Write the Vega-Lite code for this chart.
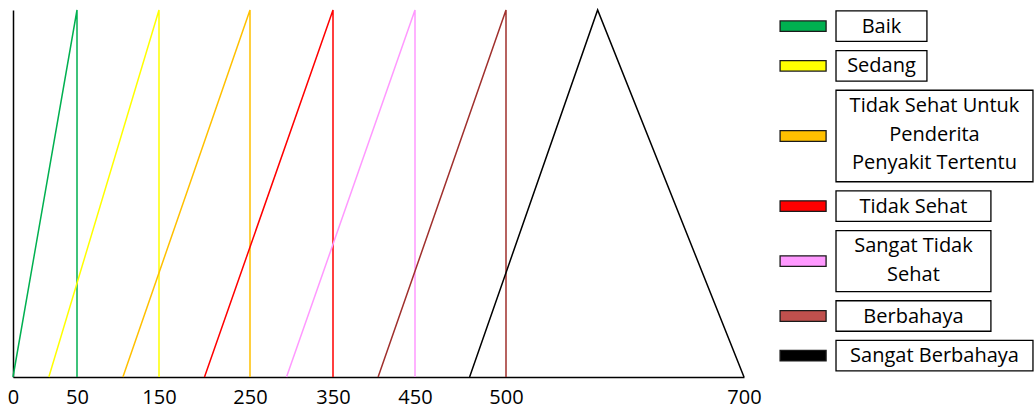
{
  "$schema": "https://vega.github.io/schema/vega-lite/v6.json",
  "background": "white",
  "padding": {"left": 7, "top": 7, "right": 0, "bottom": 4},
  "spacing": 14,
  "config": {"view": {"stroke": null}},
  "hconcat": [
    {
      "width": 731,
      "height": 367,
      "data": {
        "values": [
          {"kategori": "Baik", "urutan": 1, "aqi": 0, "derajat": 0},
          {"kategori": "Baik", "urutan": 2, "aqi": 50, "derajat": 1},
          {"kategori": "Baik", "urutan": 3, "aqi": 50, "derajat": 0},
          {"kategori": "Sedang", "urutan": 1, "aqi": 28, "derajat": 0},
          {"kategori": "Sedang", "urutan": 2, "aqi": 150, "derajat": 1},
          {"kategori": "Sedang", "urutan": 3, "aqi": 150, "derajat": 0},
          {"kategori": "Tidak Sehat Untuk Penderita Penyakit Tertentu", "urutan": 1, "aqi": 106, "derajat": 0},
          {"kategori": "Tidak Sehat Untuk Penderita Penyakit Tertentu", "urutan": 2, "aqi": 250, "derajat": 1},
          {"kategori": "Tidak Sehat Untuk Penderita Penyakit Tertentu", "urutan": 3, "aqi": 250, "derajat": 0},
          {"kategori": "Tidak Sehat", "urutan": 1, "aqi": 200, "derajat": 0},
          {"kategori": "Tidak Sehat", "urutan": 2, "aqi": 350, "derajat": 1},
          {"kategori": "Tidak Sehat", "urutan": 3, "aqi": 350, "derajat": 0},
          {"kategori": "Sangat Tidak Sehat", "urutan": 1, "aqi": 294, "derajat": 0},
          {"kategori": "Sangat Tidak Sehat", "urutan": 2, "aqi": 450, "derajat": 1},
          {"kategori": "Sangat Tidak Sehat", "urutan": 3, "aqi": 450, "derajat": 0},
          {"kategori": "Berbahaya", "urutan": 1, "aqi": 405, "derajat": 0},
          {"kategori": "Berbahaya", "urutan": 2, "aqi": 500, "derajat": 1},
          {"kategori": "Berbahaya", "urutan": 3, "aqi": 500, "derajat": 0},
          {"kategori": "Sangat Berbahaya", "urutan": 1, "aqi": 480, "derajat": 0},
          {"kategori": "Sangat Berbahaya", "urutan": 2, "aqi": 577, "derajat": 1},
          {"kategori": "Sangat Berbahaya", "urutan": 3, "aqi": 700, "derajat": 0}
        ]
      },
      "mark": {"type": "line", "strokeWidth": 1.5, "strokeJoin": "miter"},
      "encoding": {
        "x": {
          "field": "aqi",
          "type": "quantitative",
          "scale": {
            "domain": [0, 50, 150, 250, 350, 450, 500, 700],
            "range": [0, 64, 146, 237, 320, 402, 493, 731],
            "nice": false,
            "zero": false
          },
          "axis": {
            "values": [0, 50, 150, 250, 350, 450, 500, 700],
            "title": null,
            "grid": false,
            "ticks": false,
            "domainColor": "black",
            "domainWidth": 1.5,
            "labelFont": "Open Sans",
            "labelFontSize": 20,
            "labelColor": "black",
            "labelPadding": 10,
            "labelFlush": false,
            "labelOverlap": false
          }
        },
        "y": {
          "field": "derajat",
          "type": "quantitative",
          "scale": {"domain": [0, 1], "nice": false},
          "axis": {
            "title": null,
            "labels": false,
            "ticks": false,
            "grid": false,
            "domainColor": "black",
            "domainWidth": 1.5
          }
        },
        "color": {
          "field": "kategori",
          "type": "nominal",
          "scale": {
            "domain": ["Baik", "Sedang", "Tidak Sehat Untuk Penderita Penyakit Tertentu", "Tidak Sehat", "Sangat Tidak Sehat", "Berbahaya", "Sangat Berbahaya"],
            "range": ["#00B050", "#FFFF00", "#FFC000", "#FF0000", "#FF99FF", "#A0302D", "#000000"]
          },
          "legend": null
        },
        "order": {"field": "urutan", "type": "quantitative"}
      }
    },
    {
      "width": 258,
      "height": 367,
      "data": {
        "values": [
          {"urutan": 1, "kategori": "Baik", "label": "Baik"},
          {"urutan": 2, "kategori": "Sedang", "label": "Sedang"},
          {"urutan": 3, "kategori": "Tidak Sehat Untuk Penderita Penyakit Tertentu", "label": "Tidak Sehat Untuk\nPenderita\nPenyakit Tertentu"},
          {"urutan": 4, "kategori": "Tidak Sehat", "label": "Tidak Sehat"},
          {"urutan": 5, "kategori": "Sangat Tidak Sehat", "label": "Sangat Tidak\nSehat"},
          {"urutan": 6, "kategori": "Berbahaya", "label": "Berbahaya"},
          {"urutan": 7, "kategori": "Sangat Berbahaya", "label": "Sangat Berbahaya"}
        ]
      },
      "transform": [
        {"calculate": "split(datum.label, '\\n')", "as": "baris_teks"},
        {"calculate": "length(datum.baris_teks)", "as": "baris"},
        {"calculate": "max(length(datum.baris_teks[0]), length(datum.baris_teks[1] || ''), length(datum.baris_teks[2] || ''))", "as": "panjang"},
        {"window": [{"op": "sum", "field": "baris", "as": "kum"}], "sort": [{"field": "urutan", "order": "ascending"}]},
        {"calculate": "datum.kum - datum.baris + (datum.urutan - 1) * 0.3", "as": "y0"},
        {"calculate": "datum.y0 + datum.baris", "as": "y1"},
        {"calculate": "(datum.y0 + datum.y1) / 2", "as": "ym"},
        {"calculate": "datum.y0 + 0.52", "as": "yt"},
        {"calculate": "0.2326", "as": "xa"},
        {"calculate": "0.105", "as": "xs"},
        {"calculate": "datum.panjang <= 6 ? 0.585 : (datum.panjang <= 12 ? 0.833 : 0.996)", "as": "xk"},
        {"calculate": "(datum.xa + datum.xk) / 2", "as": "xt"}
      ],
      "layer": [
        {
          "mark": {"type": "rect", "fill": "white", "stroke": "black", "strokeWidth": 1.3},
          "encoding": {
            "x": {"field": "xa", "type": "quantitative", "scale": {"domain": [0, 1], "nice": false, "zero": false}, "axis": null},
            "x2": {"field": "xk"},
            "y": {"field": "y0", "type": "quantitative", "scale": {"domain": [-0.03, 12.0], "reverse": true, "nice": false, "zero": false}, "axis": null},
            "y2": {"field": "y1"}
          }
        },
        {
          "mark": {"type": "point", "shape": "M-1,-0.23H1V0.23H-1Z", "size": 2116, "filled": true, "opacity": 1, "stroke": "#1a1a1a", "strokeWidth": 1.3},
          "encoding": {
            "x": {"field": "xs", "type": "quantitative"},
            "y": {"field": "ym", "type": "quantitative"},
            "fill": {
              "field": "kategori",
              "type": "nominal",
              "scale": {
                "domain": ["Baik", "Sedang", "Tidak Sehat Untuk Penderita Penyakit Tertentu", "Tidak Sehat", "Sangat Tidak Sehat", "Berbahaya", "Sangat Berbahaya"],
                "range": ["#00B050", "#FFFF00", "#FFC000", "#FF0000", "#FF99FF", "#C0504D", "#000000"]
              },
              "legend": null
            }
          }
        },
        {
          "mark": {"type": "text", "font": "Open Sans", "fontSize": 20, "lineBreak": "\n", "lineHeight": 28.5, "align": "center", "baseline": "middle", "color": "black"},
          "encoding": {
            "x": {"field": "xt", "type": "quantitative"},
            "y": {"field": "yt", "type": "quantitative"},
            "text": {"field": "label", "type": "nominal"}
          }
        }
      ]
    }
  ]
}
